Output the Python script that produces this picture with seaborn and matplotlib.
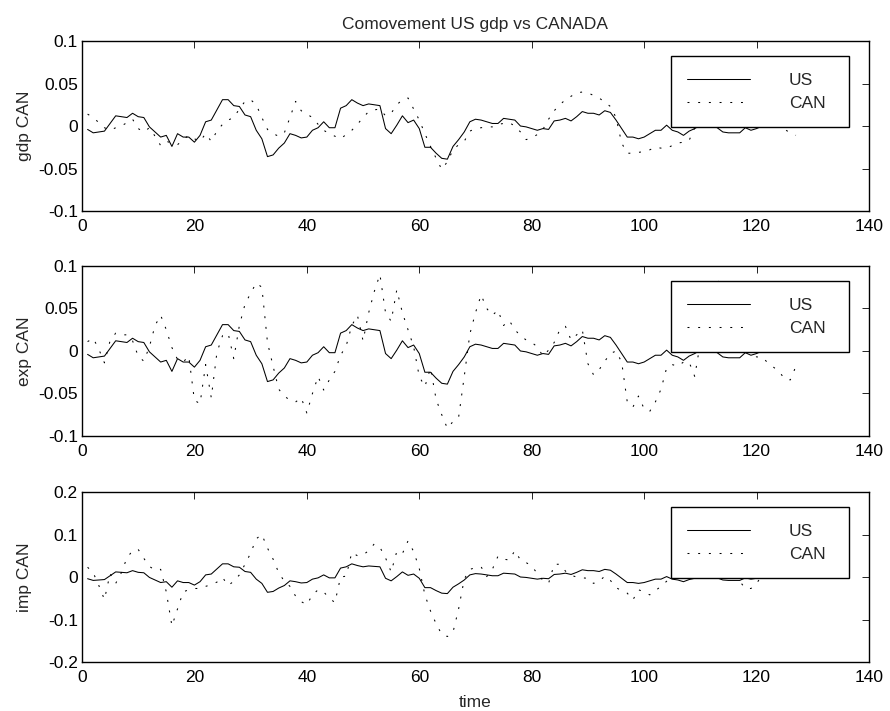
import matplotlib
matplotlib.use("Agg")
import matplotlib.pyplot as plt
import pandas as pd
import seaborn as sns

# Quarterly index
time = list(range(1, 128))

us_gdp = [
    -0.004, -0.008, -0.007, -0.006, 0.003, 0.012, 0.011, 0.010, 0.015, 0.011,
    0.010, -0.001, -0.007, -0.013, -0.011, -0.024, -0.009, -0.013, -0.013, -0.019,
    -0.011, 0.005, 0.007, 0.019, 0.031, 0.031, 0.024, 0.023, 0.013, 0.011,
    -0.005, -0.015, -0.036, -0.034, -0.026, -0.020, -0.009, -0.011, -0.014, -0.013,
    -0.005, -0.002, 0.005, -0.002, -0.002, 0.021, 0.024, 0.031, 0.027, 0.024,
    0.026, 0.025, 0.024, -0.003, -0.009, 0.001, 0.012, 0.004, 0.007, -0.003,
    -0.025, -0.025, -0.032, -0.038, -0.039, -0.024, -0.016, -0.007, 0.005, 0.008,
    0.007, 0.005, 0.003, 0.003, 0.009, 0.008, 0.007, 0.000, -0.001, -0.003,
    -0.005, -0.003, -0.004, 0.006, 0.007, 0.009, 0.006, 0.011, 0.017, 0.015,
    0.015, 0.013, 0.018, 0.016, 0.007, -0.003, -0.013, -0.013, -0.015, -0.013,
    -0.009, -0.005, -0.005, 0.001, -0.005, -0.007, -0.011, -0.006, -0.003, 0.001,
    0.002, 0.001, -0.002, -0.007, -0.008, -0.008, -0.008, -0.002, -0.005, -0.003,
    0.000, 0.002, 0.003, 0.004, 0.003, 0.002, 0.001,
]

can_gdp = [
    0.014, 0.010, 0.004, -0.002, -0.005, -0.002, 0.000, 0.004, 0.008, -0.003,
    -0.007, -0.002, -0.012, -0.023, -0.018, -0.020, -0.022, -0.016, -0.011, -0.015,
    -0.018, -0.009, -0.018, -0.006, 0.002, 0.007, 0.010, 0.020, 0.029, 0.031,
    0.025, 0.010, -0.004, -0.009, -0.012, -0.008, 0.010, 0.029, 0.018, 0.014,
    0.010, 0.002, -0.005, -0.009, -0.012, -0.015, -0.010, -0.005, 0.002, 0.010,
    0.017, 0.019, 0.020, 0.012, 0.015, 0.025, 0.031, 0.033, 0.020, 0.007,
    -0.009, -0.024, -0.038, -0.051, -0.042, -0.028, -0.022, -0.018, -0.006, -0.003,
    -0.002, -0.001, -0.001, 0.002, 0.003, 0.004, 0.000, -0.007, -0.016, -0.014,
    -0.010, -0.004, 0.008, 0.018, 0.025, 0.031, 0.035, 0.039, 0.040, 0.039,
    0.036, 0.033, 0.028, 0.023, 0.010, -0.020, -0.032, -0.032, -0.031, -0.030,
    -0.028, -0.025, -0.026, -0.026, -0.023, -0.020, -0.019, -0.017, -0.002, 0.006,
    0.010, 0.012, 0.008, 0.004, 0.006, 0.010, 0.012, 0.008, 0.005, 0.006,
    0.008, 0.004, 0.001, 0.002, -0.004, -0.008, -0.011,
]

can_exp = [
    0.011, 0.015, 0.002, -0.014, 0.012, 0.021, 0.019, 0.019, 0.012, -0.006,
    -0.012, 0.005, 0.030, 0.042, 0.025, 0.004, -0.010, -0.013, -0.006, -0.058,
    -0.062, -0.016, -0.055, -0.002, 0.018, 0.021, -0.009, 0.030, 0.055, 0.068,
    0.080, 0.075, 0.010, -0.018, -0.045, -0.053, -0.058, -0.060, -0.055, -0.073,
    -0.050, -0.030, -0.046, -0.034, -0.024, -0.005, 0.006, 0.030, 0.042, 0.012,
    0.045, 0.070, 0.090, 0.045, 0.035, 0.072, 0.045, 0.025, 0.005, -0.030,
    -0.042, -0.020, -0.057, -0.075, -0.091, -0.083, -0.078, -0.030, 0.020, 0.045,
    0.066, 0.050, 0.042, 0.048, 0.030, 0.036, 0.025, 0.018, 0.013, 0.010,
    0.005, -0.006, 0.001, 0.010, 0.025, 0.029, 0.013, 0.019, 0.025, -0.015,
    -0.028, -0.022, -0.012, -0.003, 0.000, -0.013, -0.060, -0.066, -0.053, -0.068,
    -0.071, -0.060, -0.045, -0.020, -0.016, -0.018, -0.013, -0.013, -0.030, 0.010,
    0.045, 0.075, 0.086, 0.068, 0.048, 0.030, 0.018, 0.008, 0.002, -0.007,
    -0.007, -0.014, -0.019, -0.024, -0.033, -0.034, -0.018,
]

can_imp = [
    0.023, 0.010, -0.020, -0.053, 0.008, -0.015, 0.010, 0.045, 0.062, 0.065,
    0.044, 0.025, 0.016, 0.018, -0.035, -0.115, -0.075, -0.035, -0.030, -0.027,
    -0.027, -0.022, -0.018, -0.012, -0.001, -0.020, -0.010, 0.005, 0.030, 0.056,
    0.090, 0.100, 0.068, 0.042, 0.010, -0.010, -0.022, -0.045, -0.058, -0.065,
    -0.042, -0.030, -0.035, -0.050, -0.060, 0.000, 0.002, 0.058, 0.050, 0.052,
    0.062, 0.078, 0.070, 0.045, 0.012, 0.060, 0.055, 0.085, 0.060, 0.020,
    -0.042, -0.080, -0.110, -0.135, -0.140, -0.130, -0.075, -0.005, 0.018, 0.022,
    0.024, 0.001, 0.018, 0.049, 0.042, 0.040, 0.062, 0.040, 0.034, 0.026,
    0.008, -0.008, -0.015, 0.030, 0.030, 0.014, 0.004, 0.000, -0.002, -0.003,
    -0.015, -0.010, 0.002, -0.008, -0.025, -0.032, -0.038, -0.054, -0.030, -0.035,
    -0.042, -0.032, -0.022, -0.010, 0.002, 0.010, 0.015, 0.012, 0.008, 0.012,
    0.018, 0.015, 0.010, 0.012, 0.008, 0.002, -0.010, -0.027, -0.027, -0.015,
    0.004, 0.008, 0.010, 0.006, 0.001, -0.003, -0.003,
]

panel_labels = ["gdp CAN", "exp CAN", "imp CAN"]
series_names = ["US", "CAN"]
title_text = "Comovement US gdp vs CANADA"
x_label = "time"
x_ticks = [0, 20, 40, 60, 80, 100, 120, 140]
y_ticks_small = [-0.1, -0.05, 0, 0.05, 0.1]
y_ticklabels_small = ["-0.1", "-0.05", "0", "0.05", "0.1"]
y_ticks_large = [-0.2, -0.1, 0, 0.1, 0.2]
y_ticklabels_large = ["-0.2", "-0.1", "0", "0.1", "0.2"]

FS = 12.5

sns.set_theme(style="white")
plt.rcParams["font.family"] = ["Liberation Sans", "DejaVu Sans"]
plt.rcParams.update({
    "font.size": FS,
    "axes.edgecolor": "black",
    "axes.linewidth": 1.0,
    "xtick.direction": "in",
    "ytick.direction": "in",
    "xtick.top": True,
    "ytick.right": True,
    "xtick.major.size": 5,
    "ytick.major.size": 5,
    "xtick.major.width": 0.6,
    "ytick.major.width": 0.6,
    "xtick.color": "black",
    "ytick.color": "black",
    "lines.scale_dashes": False,
})

fig = plt.figure(figsize=(8.9, 7.11), dpi=100)
fig.patch.set_facecolor("white")

panels = [
    (can_gdp, y_ticks_small, y_ticklabels_small, 0.7032),
    (can_exp, y_ticks_small, y_ticklabels_small, 0.3868),
    (can_imp, y_ticks_large, y_ticklabels_large, 0.0689),
]

dotted = (0, (1.4, 6.3))

for i, (can_series, yt, ytl, bottom) in enumerate(panels):
    ax = fig.add_axes([0.0921, bottom, 0.8843, 0.2391])
    ax.set_facecolor("white")
    df = pd.DataFrame({"time": time, "US": us_gdp, "CAN": can_series})
    sns.lineplot(data=df, x="time", y="US", ax=ax, color="black",
                 linewidth=0.75, label=series_names[0])
    sns.lineplot(data=df, x="time", y="CAN", ax=ax, color="black",
                 linewidth=0.75, linestyle=dotted, label=series_names[1])

    ax.set_xlim(x_ticks[0], x_ticks[-1])
    ax.set_ylim(yt[0], yt[-1])
    ax.set_xticks(x_ticks)
    ax.set_xticklabels([str(v) for v in x_ticks])
    ax.set_yticks(yt)
    ax.set_yticklabels(ytl)
    ax.tick_params(axis="x", pad=6, labelsize=FS)
    ax.tick_params(axis="y", pad=3, labelsize=FS)
    for sp in ax.spines.values():
        sp.set_visible(True)
        sp.set_color("black")
        sp.set_linewidth(1.0)

    ax.set_ylabel(panel_labels[i], fontsize=FS)
    ax.yaxis.set_label_coords(-0.063, 0.5)
    ax.set_xlabel(x_label if i == 2 else "", fontsize=FS, labelpad=7)

    leg = ax.legend(loc="upper left", bbox_to_anchor=(0.7484, 0.0, 0.2262, 0.9118),
                    mode="expand", frameon=True, fancybox=False, shadow=False,
                    framealpha=1.0, edgecolor="black", fontsize=FS,
                    handlelength=3.6, handletextpad=2.25, borderpad=0.95,
                    labelspacing=0.47, borderaxespad=0.0)
    leg.get_frame().set_linewidth(1.0)

    if i == 0:
        ax.set_title(title_text, fontsize=FS, pad=9)

fig.savefig("out.png", dpi=100, facecolor="white")
